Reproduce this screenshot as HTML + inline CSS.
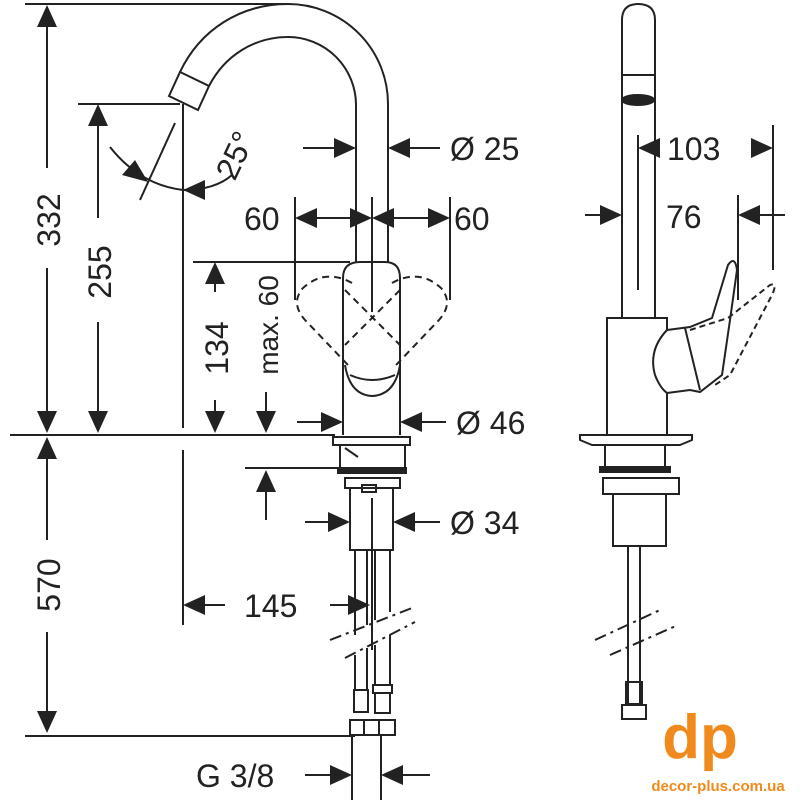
<!DOCTYPE html>
<html><head><meta charset="utf-8"><style>
html,body{margin:0;padding:0;background:#fff}
svg{display:block}
text{font-family:"Liberation Sans",sans-serif;fill:#222}
</style></head><body>
<svg width="800" height="800" viewBox="0 0 800 800" xmlns="http://www.w3.org/2000/svg">
<g stroke="#222" stroke-width="2" fill="none">
<!-- extension lines -->
<line x1="25" y1="4" x2="290" y2="4"/>
<line x1="78" y1="104" x2="180" y2="104"/>
<line x1="10" y1="435" x2="335" y2="435"/>
<line x1="25" y1="736" x2="355" y2="736"/>
<line x1="193" y1="262" x2="350" y2="262"/>
<line x1="245" y1="468" x2="340" y2="468"/>
<line x1="183" y1="104" x2="183" y2="428"/>
<line x1="183" y1="450" x2="183" y2="625"/>
<!-- vertical dims -->
<line x1="47" y1="27" x2="47" y2="168"/><line x1="47" y1="268" x2="47" y2="411"/>
<line x1="47" y1="459" x2="47" y2="540"/><line x1="47" y1="632" x2="47" y2="711"/>
<line x1="98" y1="126" x2="98" y2="218"/><line x1="98" y1="322" x2="98" y2="411"/>
<line x1="215" y1="284" x2="215" y2="292"/><line x1="215" y1="400" x2="215" y2="411"/>
<line x1="266" y1="392" x2="266" y2="411"/>
<line x1="266" y1="492" x2="266" y2="520"/>
<!-- angle 25 -->
<path d="M110,147 Q140,185 183,190 Q215,190 232,175"/>
<line x1="175" y1="123" x2="140" y2="200"/>
<!-- spout -->
<path d="M180,72 C200,30 240,4 288,4 A100,100 0 0 1 388,104 L388,262"/>
<path d="M209,86 C225,55 255,37 288,37 A68,68 0 0 1 356,105 L356,262"/>
<polygon points="169,96 180,72 209,86 198,110"/>
<!-- Ø25 -->
<line x1="303" y1="148" x2="334" y2="148"/><line x1="410" y1="148" x2="440" y2="148"/>
<!-- 60 60 -->
<line x1="295" y1="197" x2="295" y2="300"/><line x1="450" y1="197" x2="450" y2="300"/>
<line x1="372" y1="197" x2="372" y2="312"/>
<line x1="317" y1="218" x2="350" y2="218"/><line x1="394" y1="218" x2="428" y2="218"/>
<!-- body -->
<path d="M343,435 L343,278 Q343,262 360,262 L385,262 Q400,262 400,278 L400,435"/>
<path d="M345,365 Q350,395 372,396 Q395,395 400,365"/>
<path d="M350,375 Q372,385 395,375"/>
<g stroke-dasharray="7,5">
<path d="M352,283 Q325,268 303,288 Q290,303 305,320 L348,365"/>
<path d="M392,283 Q419,268 441,288 Q454,303 439,320 L396,365"/>
<line x1="345" y1="290" x2="400" y2="345"/><line x1="400" y1="290" x2="345" y2="345"/>
</g>
<!-- Ø46 -->
<line x1="297" y1="422" x2="321" y2="422"/><line x1="422" y1="422" x2="446" y2="422"/>
<!-- base -->
<rect x="333" y="437" width="77" height="8"/>
<path d="M340,445 L340,468 L405,468 L405,445"/>
<line x1="345" y1="448" x2="358" y2="457"/>
<rect x="338" y="468" width="68" height="5" fill="#222"/>
<rect x="345" y="478" width="55" height="10"/>
<rect x="362" y="485" width="14" height="7"/>
<rect x="350" y="488" width="43" height="62"/>
<line x1="372" y1="498" x2="372" y2="650"/>
<!-- Ø34 -->
<line x1="305" y1="522" x2="328" y2="522"/><line x1="415" y1="522" x2="440" y2="522"/>
<!-- hoses -->
<line x1="355" y1="550" x2="355" y2="635"/><line x1="367" y1="550" x2="367" y2="625"/>
<line x1="375" y1="550" x2="375" y2="620"/><line x1="390" y1="550" x2="390" y2="612"/>
<line x1="355" y1="655" x2="355" y2="690"/><line x1="367" y1="648" x2="367" y2="690"/>
<line x1="375" y1="645" x2="375" y2="685"/><line x1="390" y1="635" x2="390" y2="685"/>
<path d="M330,640 L412,608" stroke-dasharray="12,5,3,5"/>
<path d="M345,658 L415,622" stroke-dasharray="12,5,3,5"/>
<rect x="354" y="690" width="14" height="22"/><rect x="373" y="685" width="19" height="8"/>
<rect x="375" y="693" width="15" height="20"/>
<rect x="350" y="720" width="14" height="15"/><rect x="364" y="720" width="15" height="15"/><rect x="379" y="720" width="16" height="15"/>
<line x1="352" y1="735" x2="352" y2="800"/><line x1="381" y1="735" x2="381" y2="800"/>
<!-- 145 -->
<line x1="205" y1="605" x2="225" y2="605"/><line x1="330" y1="605" x2="348" y2="605"/>
<!-- G3/8 -->
<line x1="305" y1="775" x2="330" y2="775"/><line x1="403" y1="775" x2="430" y2="775"/>
<!-- right view -->
<path d="M622,318 L622,20 Q622,4 638,4 Q655,4 655,20 L655,318"/>
<line x1="622" y1="75" x2="655" y2="75"/>
<ellipse cx="638" cy="100" rx="16" ry="5" fill="#222"/>
<line x1="638" y1="135" x2="638" y2="290"/>
<line x1="773" y1="125" x2="773" y2="270"/>
<line x1="738" y1="195" x2="738" y2="300"/>
<line x1="585" y1="215" x2="600" y2="215"/><line x1="760" y1="215" x2="785" y2="215"/>
<path d="M607,435 L607,318 L667,318 L667,330 Q648,350 655,375 Q660,388 667,393 L667,435"/>
<path d="M667,330 L690,327 L712,318 L728,265 Q735,255 737,270 L730,320 L722,375 L700,392 L690,390 L667,393"/>
<line x1="685" y1="328" x2="700" y2="390"/>
<path d="M690,330 L728,318 L770,285 Q778,282 772,295 L730,375 L715,385" stroke-dasharray="6,4"/>
<path d="M580,435 L692,435 L692,440 L680,445 L592,445 L580,440 Z"/>
<rect x="605" y="445" width="60" height="22"/>
<rect x="600" y="467" width="70" height="5" fill="#222"/>
<rect x="603" y="478" width="76" height="16"/>
<rect x="613" y="494" width="53" height="52"/>
<line x1="628" y1="546" x2="628" y2="705"/><line x1="640" y1="546" x2="640" y2="705"/>
<path d="M595,640 L660,610" stroke-dasharray="12,5,3,5"/>
<path d="M610,655 L678,625" stroke-dasharray="12,5,3,5"/>
<rect x="626" y="682" width="16" height="22"/>
<rect x="622" y="705" width="24" height="14"/>
</g>
<!-- arrowheads -->
<g fill="#222">
<polygon points="47,5 37,27 57,27"/><polygon points="47,433 37,411 57,411"/>
<polygon points="47,437 37,459 57,459"/><polygon points="47,733 37,711 57,711"/>
<polygon points="98,104 88,126 108,126"/><polygon points="98,433 88,411 108,411"/>
<polygon points="215,262 205,284 225,284"/><polygon points="215,433 205,411 225,411"/>
<polygon points="266,433 256,411 276,411"/><polygon points="266,470 256,492 276,492"/>
<polygon points="148,182 122,175 135,160"/><polygon points="183,190 205,180 205,200"/>
<polygon points="356,148 334,138 334,158"/><polygon points="388,148 410,138 410,158"/>
<polygon points="295,218 317,208 317,228"/><polygon points="372,218 350,208 350,228"/>
<polygon points="372,218 394,208 394,228"/><polygon points="450,218 428,208 428,228"/>
<polygon points="343,422 321,412 321,432"/><polygon points="400,422 422,412 422,432"/>
<polygon points="350,522 328,512 328,532"/><polygon points="393,522 415,512 415,532"/>
<polygon points="183,605 205,595 205,615"/><polygon points="370,605 348,595 348,615"/>
<polygon points="352,775 330,765 330,785"/><polygon points="381,775 403,765 403,785"/>
<polygon points="638,148 660,138 660,158"/><polygon points="773,148 751,138 751,158"/>
<polygon points="622,215 600,205 600,225"/><polygon points="738,215 760,205 760,225"/>
</g>
<!-- labels -->
<g font-size="32">
<text transform="translate(60,220) rotate(-90)" text-anchor="middle">332</text>
<text transform="translate(60,585) rotate(-90)" text-anchor="middle">570</text>
<text transform="translate(111,272) rotate(-90)" text-anchor="middle">255</text>
<text transform="translate(228,348) rotate(-90)" text-anchor="middle">134</text>
<text transform="translate(278,325) rotate(-90)" text-anchor="middle" font-size="28">max. 60</text>
<text transform="translate(245,160) rotate(-65)" text-anchor="middle">25°</text>
<text x="450" y="160">Ø 25</text>
<text x="244" y="230">60</text>
<text x="454" y="230">60</text>
<text x="456" y="434">Ø 46</text>
<text x="450" y="534">Ø 34</text>
<text x="244" y="617">145</text>
<text x="196" y="787">G 3/8</text>
<text x="667" y="160">103</text>
<text x="666" y="228">76</text>
</g>
<text x="700" y="758" text-anchor="middle" font-size="62" font-weight="bold" style="fill:#f08a1c">dp</text>
<text x="718" y="791" text-anchor="middle" font-size="15" font-weight="bold" style="fill:#f08a1c">decor-plus.com.ua</text>
</svg>
</body></html>
